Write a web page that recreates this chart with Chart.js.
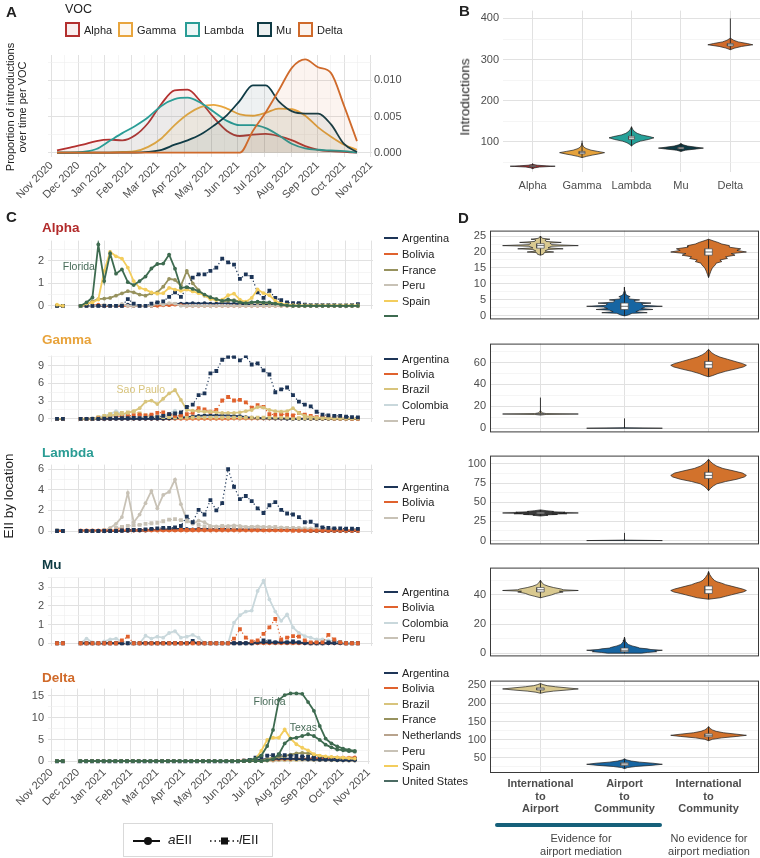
<!DOCTYPE html>
<html>
<head>
<meta charset="utf-8">
<script src="https://cdn.jsdelivr.net/npm/chart.js@4.4.1/dist/chart.umd.min.js"></script>
<style>
  body { margin: 0; background: #fff; font-family: "Liberation Sans", Arial, sans-serif; color: #222; }
  #fig { position: relative; width: 760px; height: 858px; overflow: hidden; }
  canvas { position: absolute; }
  .t { position: absolute; white-space: nowrap; line-height: 1; transform: translateY(-50%); }
</style>
</head>
<body>
<div id="fig"></div>
<script>
const N = null;

// ---------- shared time axis (x = weekly sample index) ----------
const monthLabels = ['Nov 2020','Dec 2020','Jan 2021','Feb 2021','Mar 2021','Apr 2021','May 2021',
                     'Jun 2021','Jul 2021','Aug 2021','Sep 2021','Oct 2021','Nov 2021'];
const monthPos = [-0.93, 3.6, 8.12, 12.65, 17.17, 21.7, 26.22, 30.75, 35.27, 39.8, 44.32, 48.85, 53.37];

// ---------- Panel A: proportion of introductions over time ----------
const vocNames = ['Alpha','Gamma','Lambda','Mu','Delta'];
const vocColors = ['#b3302f','#e8a53d','#2a9d96','#0f3b45','#cf6a2b'];
const densX = [0,2.2,4.4,6.7,8.9,11.1,13.3,15.5,17.8,20,22.2,24.4,26.6,28.9,31.1,33.3,35.5,37.7,40,42.2,44.4,46.6,48.8,51];
const densAlpha  = [0.0003,0.0007,0.0011,0.0016,0.0018,0.0017,0.0024,0.0041,0.0068,0.0086,0.0087,0.0071,0.0049,0.0030,0.0023,0.0025,0.0026,0.0023,0.0017,0.0009,0.0004,0.0002,0.0001,0];
const densGamma  = [0,0,0,0,0,0.0001,0.0002,0.0008,0.0020,0.0038,0.0053,0.0063,0.0066,0.0061,0.0053,0.0051,0.0055,0.0061,0.0060,0.0051,0.0035,0.0022,0.0011,0.0004];
const densLambda = [0,0,0.0001,0.0005,0.0016,0.0027,0.0037,0.0049,0.0065,0.0074,0.0076,0.0069,0.0057,0.0044,0.0038,0.0038,0.0034,0.0024,0.0012,0.0006,0.0004,0.0003,0.0002,0];
const densMu     = [0,0,0,0,0,0,0,0.0001,0.0004,0.0011,0.0017,0.0025,0.0037,0.0052,0.0072,0.0093,0.0093,0.0071,0.0057,0.0054,0.0054,0.0039,0.0012,0.0001];
const densDelta  = [0,0,0,0,0,0,0,0,0,0,0,0,0,0,0,0.0030,0.0056,0.0086,0.0118,0.0129,0.0118,0.0110,0.0065,0.0016];

// ---------- Panel B: introductions per VOC (violin profiles: [value, relative width]) ----------
const bAlpha  = [[35,0],[37,0.08],[39,0.3],[40.5,0.8],[41,1.0],[42,0.6],[43.5,0.2],[45,0.05],[47,0]];
const bGamma  = [[62,0],[65,0.2],[68,0.45],[71,0.75],[74,1.0],[77,0.7],[80,0.4],[84,0.18],[88,0.07],[93,0.02],[97,0]];
const bLambda = [[90,0],[94,0.08],[98,0.2],[102,0.4],[106,0.75],[110,1.0],[113,0.8],[117,0.45],[121,0.25],[126,0.12],[131,0.05],[137,0]];
const bMu     = [[77,0],[80,0.2],[83,0.7],[85,1.0],[87,0.7],[90,0.3],[93,0.1],[96,0]];
const bDelta  = [[324,0],[328,0.2],[332,0.5],[336,1.0],[339,0.75],[343,0.35],[347,0.15],[352,0]];
const bWhisk  = [[35,47],[62,103],[90,137],[77,96],[324,400]];
const bBox    = [[40,41,42],[71,74,77],[106,110,114],[83,85,87],[333,336,339]];

// ---------- Panel C: EII by location (a = aEII, L = lEII), weekly ----------
const alphaArgentinaA = [0,0,N,N,0,0,0,0,0,0, 0,0,0.05,0,0,0,0,0.02,0.05,0.05, 0.08,0.1,0.1,0.12,0.1,0.12,0.1,0.1,0.12,0.1, 0.1,0.08,0.08,0.05,0.05,0.05,0.05,0.03,0.02,0.02, 0.02,0,0,0,0,0,0,0,0,0, 0,0];
const alphaArgentinaL = [0,0,N,N,0,0,0,0,0,0, 0,0,0.3,0.1,0,0,0.1,0.15,0.2,0.4, 0.6,0.4,0.8,1.25,1.4,1.4,1.55,1.7,2.1,1.93, 1.83,1.2,1.4,1.28,0.6,0.35,0.67,0.35,0.25,0.15, 0.12,0.12,0.05,0.03,0.03,0.03,0.03,0.03,0.02,0.02, 0.03,0.07];
const alphaBoliviaA   = [0,0,N,N,0,0,0,0.05,0,0, 0,0,0,0,0,0,0,0,0.02,0.03, 0.05,0.03,0,0,0,0,0,0,0,0, 0,0,0,0,0,0,0,0,0,0, 0,0,0,0,0,0,0,0,0,0, 0,0];
const alphaFranceA    = [0,0,N,N,0,0.05,0.2,0.3,0.32,0.35, 0.45,0.55,0.65,0.6,0.5,0.45,0.55,0.6,0.85,1.2, 1.15,0.9,1.55,1.0,0.7,0.45,0.35,0.3,0.2,0.22, 0.25,0.2,0.15,0.15,0.15,0.12,0.12,0.1,0.05,0.02, 0,0,0,0,0,0,0,0,0,0, 0,0];
const alphaPeruA      = [0,0,N,N,0,0,0,0,0.05,0, 0,0.08,0,0,0,0,0,0.1,0.05,0.12, 0.1,0,0,0,0,0,0,0,0,0, 0,0,0,0,0,0,0,0,0,0, 0,0,0,0,0,0,0,0,0,0, 0,0];
const alphaSpainA     = [0.05,0,N,N,0,0.1,0.15,0.28,1.55,2.4, 2.2,2.1,1.7,1.1,0.8,0.72,0.6,0.54,0.56,0.8, 0.72,0.67,0.72,0.64,0.56,0.47,0.3,0.25,0.27,0.47, 0.54,0.27,0.18,0.35,0.73,0.56,0.47,0.22,0.1,0.05, 0.03,0.02,0.02,0.02,0.02,0.02,0.02,0.02,0.02,0.02, 0.02,0.02];
const alphaFloridaA   = [N,N,N,N,0,0.15,0.37,2.73,1.1,2.33, 1.43,1.62,1.05,0.92,1.1,1.3,1.66,1.86,1.88,2.28, 1.65,0.8,0.83,0.75,0.65,0.5,0.38,0.3,0.22,0.28, 0.22,0.15,0.12,0.15,0.18,0.15,0.15,0.1,0.05,0.02, 0,0,0,0,0,0,0,0,0,0, 0,0];

const gammaArgentinaA = [0,0,N,N,0,0,0,0,0,0, 0,0,0,0,0,0,0,0,0,0.05, 0.1,0.2,0.3,0.4,0.5,0.6,0.6,0.6,0.6,0.55, 0.5,0.45,0.3,0.2,0.15,0.1,0.1,0.05,0.05,0, 0,0,0,0,0,0,0,0,0,0, 0,0];
const gammaArgentinaL = [0,0,N,N,0,0,0,0,0.05,0.05, 0.1,0.1,0.1,0.15,0.1,0.15,0.2,0.3,0.5,0.8, 0.9,1.1,2.0,2.4,4.0,4.3,7.7,8.1,10.0,10.5, 10.5,9.9,10.6,9.2,9.4,8.2,7.5,4.5,5.0,5.3, 4.0,2.9,2.4,2.1,1.2,0.7,0.6,0.5,0.5,0.35, 0.3,0.25];
const gammaBoliviaA   = [0,0,N,N,0,0,0,0,0,0, 0,0,0,0,0,0,0,0,0,0, 0,0,0,0,0,0,0,0,0,0, 0.05,0.05,0.05,0.05,0.05,0.05,0.05,0.05,0.05,0.05, 0.05,0.05,0.05,0,0,0,0,0,0,0, 0,0];
const gammaBoliviaL   = [0,0,N,N,0,0,0,0.1,0.1,0.1, 0.3,0.5,0.5,0.6,0.7,0.6,0.7,1.0,1.1,0.8, 0.5,0.6,0.8,1.0,1.8,1.6,1.2,1.5,3.1,3.7, 3.1,3.2,2.8,1.9,2.3,2.0,0.8,0.7,0.8,0.7, 0.6,1.0,0.7,0.5,0.3,0.3,0.2,0.1,0.1,0.1, 0.05,0.05];
const gammaBrazilA    = [0,0,N,N,0,0,0,0.1,0.3,0.6, 0.7,0.8,1.0,1.3,1.8,2.9,3.1,2.5,3.4,4.3, 4.9,3.2,1.5,1.4,1.3,1.2,1.2,1.1,1.0,1.0, 1.0,1.1,1.3,1.5,2.0,1.9,1.5,1.3,1.2,1.3, 1.8,1.0,0.5,0.3,0.2,0.15,0.1,0.05,0.05,0.05, 0.05,0.05];
const gammaBrazilL    = [0,0,N,N,0,0,0,0.3,0.5,0.8, 0.9,1.0,1.1,1.2,0.9,0.6,0.4,0.3,0.3,0.3, 0.2,0.2,0.2,0.2,0.2,0.2,0.2,0.2,0.2,0.2, 0.2,0.2,0.2,0.2,0.2,0.2,0.2,0.2,0.2,0.2, 0.1,0.1,0.1,0.1,0.1,0.1,0.1,0.1,0.1,0.1, 0.1,0.1];
const gammaColombiaA  = [0,0,N,N,0,0,0.1,0.3,0.5,0.8, 1.3,0.8,0.5,0.3,0.2,0.2,0.3,0.4,0.6,0.9, 1.4,0.5,0.3,0.2,0.2,0.2,0.1,0.1,0.1,0.1, 0.1,0.1,0.1,0.1,0.1,0.1,0.1,0.1,0.1,0.1, 0.05,0.05,0.05,0.05,0.05,0.05,0.05,0.05,0.05,0.05, 0.05,0.05];
const gammaPeruA      = [0,0,N,N,0,0.05,0.1,0.2,0.3,0.3, 0.5,0.4,0.3,0.3,0.2,0.2,0.2,0.3,0.4,0.5, 0.6,0.3,0.2,0.2,0.1,0.1,0.1,0.1,0.1,0.1, 0.1,0.1,0.1,0.1,0.1,0.1,0.1,0.1,0.1,0.1, 0.05,0.05,0.05,0.05,0.05,0.05,0.05,0.05,0.05,0.05, 0.05,0.05];

const lambdaArgentinaA = [0.1,0,N,N,0,0,0,0,0,0, 0,0,0,0.05,0.05,0.05,0.1,0.1,0.15,0.15, 0.2,0.2,0.2,0.15,0.2,0.2,0.2,0.2,0.2,0.2, 0.2,0.15,0.15,0.15,0.15,0.1,0.1,0.1,0.1,0.1, 0.1,0.05,0.05,0,0,0,0,0,0,0, 0,0];
const lambdaArgentinaL = [0,0,N,N,0,0,0,0,0,0, 0,0.05,0.1,0.1,0.1,0.15,0.2,0.25,0.3,0.3, 0.35,0.5,1.4,0.85,2.05,1.6,3.0,2.0,2.7,6.0, 4.3,3.1,3.4,2.9,2.2,1.75,2.5,2.8,2.05,1.7, 1.6,1.35,0.85,0.9,0.55,0.35,0.3,0.25,0.25,0.22, 0.22,0.2];
const lambdaBoliviaA   = [0,0,N,N,0.05,0.05,0.05,0.05,0.05,0.05, 0.05,0.05,0.05,0.05,0.05,0.05,0.05,0.05,0.05,0.05, 0.05,0.05,0.05,0.05,0.05,0.05,0.05,0.05,0.05,0.05, 0.05,0.05,0.05,0.05,0.05,0.05,0.05,0.05,0.05,0.05, 0.05,0.05,0.05,0.05,0.05,0.05,0.05,0.05,0.05,0.05, 0.05,0.05];
const lambdaBoliviaL   = [0,0,N,N,0,0,0,0,0,0.1, 0.15,0.35,0.1,0.1,0.1,0.1,0.1,0.15,0.1,0.1, 0.1,0.1,0.1,0.1,0.15,0.15,0.2,0.2,0.3,0.25, 0.2,0.2,0.2,0.15,0.15,0.1,0.1,0.1,0.1,0.1, 0.05,0.05,0.05,0.05,0.05,0.05,0.05,0.05,0.05,0.05, 0.05,0.05];
const lambdaPeruA      = [0.1,0,N,N,0,0.05,0.05,0,0,0.3, 0.7,1.35,3.7,0.85,1.6,2.7,3.9,2.2,3.5,3.8, 5.0,2.6,1.06,0.7,1.0,0.85,0.5,0.45,0.45,0.5, 0.55,0.5,0.4,0.4,0.45,0.4,0.4,0.3,0.35,0.3, 0.3,0.3,0.2,0.25,0.2,0.2,0.2,0.1,0.1,0.1, 0.1,0.1];
const lambdaPeruL      = [0,0,N,N,0,0,0,0,0.1,0.2, 0.3,0.4,0.5,0.55,0.6,0.7,0.75,0.8,0.95,1.1, 1.15,1.05,0.95,0.85,0.6,0.45,0.4,0.35,0.5,0.4, 0.4,0.4,0.35,0.4,0.4,0.35,0.35,0.4,0.3,0.3, 0.3,0.25,0.25,0.2,0.2,0.15,0.15,0.1,0.1,0.1, 0.1,0.1];

const muArgentinaA = [0,0,N,N,0,0,0,0,0,0, 0,0,0,0,0,0,0,0,0,0, 0,0,0,0.05,0,0,0,0,0,0, 0,0,0,0,0.05,0.05,0.05,0.05,0.05,0.05, 0.05,0.05,0,0,0,0,0,0,0,0, 0,0];
const muArgentinaL = [0,0,N,N,0,0,0,0,0,0, 0,0,0,0,0,0,0,0,0,0, 0,0,0,0.12,0,0,0,0,0,0, 0,0,0,0,0.05,0.15,0.1,0.05,0.1,0.05, 0.1,0.05,0.05,0,0,0,0.05,0.1,0.05,0, 0,0];
const muBoliviaA   = [0,0,N,N,0,0,0,0,0,0, 0,0,0,0,0,0,0,0,0,0, 0,0,0,0,0,0,0,0,0,0, 0,0,0,0,0,0,0,0,0,0, 0,0,0,0,0,0,0,0,0,0, 0,0];
const muBoliviaL   = [0,0,N,N,0,0,0,0,0,0, 0,0.15,0.35,0,0,0,0,0,0,0, 0,0,0,0,0,0,0,0,0,0, 0.25,0.75,0.3,0.1,0.15,0.5,0.85,1.3,0.2,0.3, 0.38,0.35,0.15,0.05,0.05,0.05,0.45,0.2,0.05,0, 0,0];
const muColombiaA  = [0,0,N,N,0,0.25,0.05,0,0.1,0.2, 0.25,0.1,0,0,0,0.4,0.25,0.35,0.3,0.55, 0.65,0.3,0.35,0.45,0.3,0,0,0,0,0, 1.1,1.5,1.7,1.75,2.8,3.35,2.35,1.7,1.2,1.55, 0.85,0.55,0.38,0.3,0.2,0.2,0.15,0.1,0.05,0.03, 0,0];
const muPeruA      = [0,0,N,N,0,0,0,0,0,0, 0,0,0,0,0,0,0,0,0,0, 0,0,0,0,0,0,0,0,0,0, 0,0,0,0,0,0,0,0,0,0, 0,0,0,0,0,0,0,0,0,0, 0,0];

const deltaArgentinaA   = [0,0,N,N,0,0,0,0,0,0, 0,0,0,0,0,0,0,0,0,0, 0,0,0,0,0,0,0,0,0,0, 0,0,0.1,0.2,0.3,0.4,0.5,0.5,0.6,0.6, 0.6,0.5,0.5,0.4,0.4,0.3,0.3,0.3,0.2,0.2, 0.2,0.2];
const deltaArgentinaL   = [0,0,N,N,0,0,0,0,0,0, 0,0,0,0,0,0,0,0,0,0, 0,0,0,0,0,0,0,0,0,0, 0,0,0.1,0.3,0.8,1.2,1.3,1.4,1.5,1.4, 1.3,1.2,1.1,1.0,0.9,0.8,0.7,0.6,0.6,0.5, 0.5,0.5];
const deltaBoliviaA     = [0,0,N,N,0,0,0,0,0,0, 0,0,0,0,0,0,0,0,0,0, 0,0,0,0,0,0,0,0,0,0, 0.1,0.1,0.2,0.2,0.3,0.3,0.4,0.4,0.5,0.5, 0.5,0.6,0.6,0.6,0.7,0.7,0.7,0.8,0.8,0.8, 0.8,0.9];
const deltaBrazilA      = [0,0,N,N,0,0,0,0,0,0, 0,0,0,0,0,0,0,0,0,0, 0,0,0,0,0,0,0,0,0,0, 0,0,0,0,0.1,0.1,0.2,0.2,0.3,0.3, 0.3,0.3,0.4,0.4,0.3,0.3,0.3,0.2,0.2,0.2, 0.2,0.2];
const deltaFranceA      = [0,0,N,N,0,0,0,0,0,0, 0,0,0,0,0,0,0,0,0,0, 0,0,0,0,0,0,0,0,0,0, 0,0,0,0,0,0,0.5,0.8,1.0,1.2, 1.5,1.8,1.9,1.8,1.5,1.2,1.0,0.9,0.8,0.7, 0.6,0.6];
const deltaNetherlandsA = [0,0,N,N,0,0,0,0,0,0, 0,0,0,0,0,0,0,0,0,0, 0,0,0,0,0,0,0,0,0,0, 0,0,0,0,0,0.1,0.2,0.3,0.4,0.5, 0.6,0.6,0.5,0.5,0.4,0.4,0.3,0.3,0.3,0.2, 0.2,0.2];
const deltaPeruA        = [0,0,N,N,0,0,0,0,0,0, 0,0,0,0,0,0,0,0,0,0, 0,0,0,0,0,0,0,0,0,0, 0,0,0,0,0,0,0.1,0.1,0.2,0.2, 0.2,0.3,0.3,0.3,0.3,0.2,0.2,0.2,0.2,0.2, 0.1,0.1];
const deltaSpainA       = [0,0,N,N,0,0,0,0,0,0, 0,0,0,0,0,0,0,0,0,0, 0,0,0,0,0,0,0,0,0,0, 0,0,0.05,0.1,0.5,2.4,4.9,5.4,5.4,7.3, 5.2,3.9,3.1,2.5,1.6,1.3,1.1,1.0,0.9,0.8, 0.7,0.6];
const deltaFloridaA     = [0,0,N,N,0,0,0,0,0,0, 0,0,0,0,0,0,0,0,0,0, 0,0,0,0,0,0,0,0,0,0, 0,0,0.1,0.3,0.6,1.3,3.5,7.2,14.1,15.2, 15.6,15.6,15.5,13.6,11.6,8.1,5.2,4.1,3.4,2.9, 2.6,2.4];
const deltaTexasA       = [0,0,N,N,0,0,0,0,0,0, 0,0,0,0,0,0,0,0,0,0, 0,0,0,0,0,0,0,0,0,0, 0,0,0,0,0,0,0.2,0.5,1.6,4.1, 5.2,5.4,5.8,6.2,5.8,4.9,3.8,3.2,2.7,2.5, 2.3,2.2];

// ---------- Panel D: EII by route (violin profiles: [value, relative width]) ----------
const routeLabels = [['International','to','Airport'], ['Airport','to','Community'], ['International','to','Community']];
const d1IntAir = [[19,0],[19.3,0.08],[19.8,0.1],[20,0.35],[20.3,0.12],[20.8,0.2],[21,0.6],[21.3,0.2],[21.8,0.3],[22,1.0],[22.3,0.3],[22.8,0.25],[23,0.55],[23.3,0.15],[23.8,0.12],[24,0.25],[24.3,0.05],[25,0]];
const d1AirCom = [[0,0],[0.3,0.1],[0.8,0.2],[1,0.6],[1.3,0.3],[1.8,0.4],[2,0.75],[2.3,0.45],[2.8,0.55],[3,1.0],[3.3,0.5],[3.8,0.45],[4,0.7],[4.3,0.3],[4.8,0.25],[5,0.4],[5.3,0.12],[5.8,0.1],[6,0.15],[6.5,0.05],[7,0.03],[8,0.01],[9,0]];
const d1IntCom = [[12,0],[13,0.03],[14,0.06],[15,0.1],[16,0.18],[16.5,0.2],[17,0.35],[17.5,0.3],[18,0.5],[18.5,0.45],[19,0.7],[19.5,0.6],[20,1.0],[20.5,0.75],[21,0.85],[21.5,0.55],[22,0.55],[22.5,0.35],[23,0.25],[23.5,0.12],[24,0]];
const d2IntAir = [[12,0],[12.6,0.15],[13,1.0],[13.4,0.15],[14,0.05],[16,0]];
const d2AirCom = [[0,1.0],[0.4,0.03],[1,0]];
const d2IntCom = [[47,0],[48,0.1],[50,0.25],[52,0.45],[54,0.7],[56,0.92],[57.5,1.0],[59,0.9],[61,0.7],[63,0.5],[65,0.3],[67,0.17],[69,0.08],[71,0.03],[72,0]];
const d3IntAir = [[32,0],[33,0.2],[33.5,0.15],[34,0.45],[34.5,0.3],[35,0.7],[35.5,0.5],[36,1.0],[36.5,0.6],[37,0.65],[37.5,0.3],[38,0.35],[39,0.15],[40,0]];
const d3AirCom = [[0,1.0],[0.6,0.03],[1.5,0]];
const d3IntCom = [[65,0],[68,0.05],[71,0.12],[74,0.22],[77,0.45],[80,0.75],[83,0.95],[85,1.0],[88,0.9],[91,0.65],[94,0.38],[97,0.22],[100,0.12],[103,0.05],[106,0]];
const d4IntAir = [[38,0],[39,0.15],[40,0.3],[41,0.4],[42,0.6],[42.5,0.5],[43,1.0],[43.5,0.6],[44,0.55],[45,0.35],[46,0.2],[47,0.1],[48,0.05],[50,0]];
const d4AirCom = [[0,0.45],[0.5,0.6],[1,0.85],[1.5,0.8],[2,1.0],[2.5,0.7],[3,0.6],[3.5,0.4],[4,0.35],[5,0.2],[6,0.1],[7,0.06],[8,0.03],[9,0.02],[11,0]];
const d4IntCom = [[37,0],[38,0.3],[39,0.45],[40,0.6],[41,0.75],[42,0.92],[43,1.0],[44,0.9],[45,0.75],[46,0.6],[47,0.45],[48,0.35],[49,0.22],[50,0.15],[52,0.08],[54,0.03],[56,0]];
const d5IntAir = [[228,0],[231,0.12],[234,0.35],[237,0.7],[240,1.0],[243,0.7],[246,0.4],[249,0.18],[252,0.07],[255,0]];
const d5AirCom = [[20,0],[23,0.08],[26,0.3],[29,0.7],[32,1.0],[35,0.75],[38,0.4],[41,0.18],[44,0.06],[47,0]];
const d5IntCom = [[97,0],[101,0.1],[105,0.35],[109,0.75],[112,1.0],[115,0.75],[119,0.4],[123,0.2],[127,0.1],[131,0.04],[136,0]];
const dWhisk = [[[19,25],[0,9],[12,24]], [[12,28],[0,9],[47,72]], [[32,40],[0,10],[65,106]], [[38,50],[0,11],[37,56]], [[228,255],[20,47],[97,136]]];
const dBox = [[[21.2,22,22.6],[2,3,4],[19,20,21]], [[12.8,13,13.5],null,[55,58,61]], [[35,36,37],null,[81,85,89]], [[42,43.5,45],[1,2,3.5],[41,43.5,46]], [[237,240,243],[29,33,36],[108,112,116]]];

// ---------- colours ----------
const COL = { Argentina:'#1d3557', Bolivia:'#e0622e', Brazil:'#d8c47c', Colombia:'#c9d8dc', France:'#97925e',
              Netherlands:'#b8a38d', Peru:'#c8c2b6', Spain:'#f3cd5d', US:'#3e6b50' };
const routeColors = ['#d9c990', '#1665a2', '#d2722c'];
const MAJ = '#e1e1e1', MIN = '#eeeeee';
const X_MIN = -1.53, X_MAX = 53.56;

Chart.defaults.font.family = '"Liberation Sans", Arial, sans-serif';
Chart.defaults.color = '#4d4d4d';
Chart.defaults.animation = false;

// text labels and frames drawn on top of the datasets
Chart.register({
  id: 'notes',
  afterDatasetsDraw(chart, args, o) {
    const ctx = chart.ctx, x = chart.scales.x, y = chart.scales.y;
    (o.items || []).forEach(it => {
      ctx.save();
      ctx.font = '10.5px "Liberation Sans", Arial, sans-serif';
      ctx.fillStyle = it.color;
      ctx.textAlign = 'center';
      ctx.textBaseline = 'middle';
      ctx.fillText(it.text, x.getPixelForValue(it.x), y.getPixelForValue(it.y));
      ctx.restore();
    });
    if (o.frame) {
      const a = chart.chartArea;
      ctx.save();
      ctx.strokeStyle = '#3a3a3a';
      ctx.lineWidth = 1;
      ctx.strokeRect(a.left + 0.5, a.top + 0.5, a.right - a.left - 1, a.bottom - a.top - 1);
      ctx.restore();
    }
  }
});

const fig = document.getElementById('fig');

function mk(left, top, w, h) {
  const c = document.createElement('canvas');
  c.width = w; c.height = h;
  c.style.left = left + 'px'; c.style.top = top + 'px';
  c.style.width = w + 'px'; c.style.height = h + 'px';
  fig.appendChild(c);
  return c;
}

function tx(html, x, y, css) {
  const d = document.createElement('div');
  d.className = 't';
  d.innerHTML = html;
  d.style.left = x + 'px';
  d.style.top = y + 'px';
  if (css) d.style.cssText += css;
  fig.appendChild(d);
  return d;
}

function fade(hex, a) {
  const n = parseInt(hex.slice(1), 16);
  return 'rgba(' + (n >> 16) + ',' + ((n >> 8) & 255) + ',' + (n & 255) + ',' + a + ')';
}

function gridCfg() {
  return {
    drawTicks: false,
    color: c => (c.tick && c.tick.major) ? MAJ : MIN,
    lineWidth: c => (c.tick && c.tick.major) ? 1 : 0.6
  };
}

function tickList(majors, min, max) {
  const step = majors[1] - majors[0], h = step / 2;
  let v = majors[0];
  while (v - h >= min - 1e-9) v -= h;
  const out = [];
  for (; v <= max + 1e-9; v += h) {
    const k = (v - majors[0]) / step;
    out.push({ value: +v.toFixed(6), major: Math.abs(k - Math.round(k)) < 1e-6 });
  }
  return out;
}

function monthTicks() {
  const out = [];
  monthPos.forEach((p, i) => {
    out.push({ value: p, major: true, label: monthLabels[i] });
    if (i < monthPos.length - 1) out.push({ value: (p + monthPos[i + 1]) / 2, major: false, label: '' });
  });
  return out.filter(t => t.value >= X_MIN && t.value <= X_MAX);
}

function monthAxis(show, height) {
  return {
    type: 'linear', min: X_MIN, max: X_MAX,
    afterBuildTicks: s => { s.ticks = monthTicks(); },
    ticks: { display: show, autoSkip: false, minRotation: 45, maxRotation: 45, padding: 2,
             font: { size: 11 }, callback: (v, i, t) => (t[i] && t[i].major) ? t[i].label : '' },
    grid: gridCfg(),
    border: { display: false },
    afterFit: s => { s.height = height; }
  };
}

function valAxis(majors, min, max, width, fmt, pos) {
  return {
    type: 'linear', position: pos || 'left', min: min, max: max,
    afterBuildTicks: s => { s.ticks = tickList(majors, min, max); },
    ticks: { autoSkip: false, padding: pos === 'right' ? 2 : 4, font: { size: 11 },
             callback: (v, i, t) => (t[i] && t[i].major) ? fmt(v) : '' },
    grid: gridCfg(),
    border: { display: false },
    afterFit: s => { s.width = width; }
  };
}

function catAxis(labels, show, height, font, pad) {
  return {
    type: 'linear', min: 0.4, max: labels.length + 0.6,
    afterBuildTicks: s => { s.ticks = labels.map((l, i) => ({ value: i + 1, major: true })); },
    ticks: { display: show, autoSkip: false, minRotation: 0, maxRotation: 0, padding: pad,
             font: font, callback: (v, i) => labels[i] },
    grid: gridCfg(),
    border: { display: false },
    afterFit: s => { s.height = height; }
  };
}

function opts(pad, scales, plug) {
  return {
    responsive: false, animation: false, events: [],
    layout: { padding: pad, autoPadding: false },
    plugins: Object.assign({ legend: { display: false }, tooltip: { enabled: false } }, plug || {}),
    scales: scales
  };
}

// later datasets are drawn on top, like ggplot layers
function layered(sets) {
  sets.forEach((d, k) => { d.order = -k; });
  return sets;
}

// violin = closed outline around the centre, filled as a shape
function violinSets(c, prof, color, hw, whisk, box, bhw) {
  const right = prof.map(p => ({ x: c + p[1] * hw, y: p[0] }));
  const left = prof.slice().reverse().map(p => ({ x: c - p[1] * hw, y: p[0] }));
  const pts = right.concat(left);
  pts.push(right[0]);
  const sets = [{ data: pts, fill: 'shape', backgroundColor: color, borderColor: '#1e1e1e',
                  borderWidth: 0.7, pointRadius: 0, tension: 0 }];
  sets.push({ data: [{ x: c, y: whisk[0] }, { x: c, y: whisk[1] }], borderColor: '#1e1e1e',
              borderWidth: 0.9, pointRadius: 0, fill: false });
  if (box) {
    sets.push({ data: [{ x: c - bhw, y: box[0] }, { x: c + bhw, y: box[0] }, { x: c + bhw, y: box[2] },
                       { x: c - bhw, y: box[2] }, { x: c - bhw, y: box[0] }],
                fill: 'shape', backgroundColor: '#ffffff', borderColor: '#4a4a4a', borderWidth: 0.7,
                pointRadius: 0, tension: 0 });
    sets.push({ data: [{ x: c - bhw, y: box[1] }, { x: c + bhw, y: box[1] }], borderColor: '#4a4a4a',
                borderWidth: 0.8, pointRadius: 0, fill: false });
  }
  return sets;
}

// ================= Panel A =================
const densSeries = [densAlpha, densGamma, densLambda, densMu, densDelta];
new Chart(mk(0, 0, 430, 215), {
  type: 'line',
  data: { datasets: layered(vocNames.map((n, i) => ({
    data: densX.map((x, j) => ({ x: x, y: densSeries[i][j] })),
    borderColor: vocColors[i], backgroundColor: fade(vocColors[i], 0.07), fill: 'origin',
    borderWidth: 1.8, pointRadius: 0, cubicInterpolationMode: 'monotone'
  }))) },
  options: opts({ left: 48, top: 55, right: 0, bottom: 0 }, {
    x: monthAxis(true, 58),
    y: valAxis([0, 0.005, 0.01], -0.0006, 0.0135, 58, v => v.toFixed(3), 'right')
  })
});

// ================= Panel B =================
const bProfiles = [bAlpha, bGamma, bLambda, bMu, bDelta];
const bColors = ['#a02f30', '#e5a23c', '#26a098', '#0d3a44', '#d06a2b'];
let bSets = [];
bProfiles.forEach((p, i) => { bSets = bSets.concat(violinSets(i + 1, p, bColors[i], 0.455, bWhisk[i], bBox[i], 0.06)); });
new Chart(mk(400, 0, 360, 200), {
  type: 'line',
  data: { datasets: layered(bSets) },
  options: opts({ left: 0, top: 3, right: 0, bottom: 0 }, {
    x: catAxis(vocNames, true, 28, { size: 11 }, 7),
    y: valAxis([100, 200, 300, 400], 27, 419, 103, v => String(v))
  })
});

// ================= Panel C =================
function ser(arr, color, local) {
  return {
    data: arr.map((v, i) => ({ x: i, y: v })),
    borderColor: color, backgroundColor: color,
    borderWidth: local ? 1.2 : 1.8,
    borderDash: local ? [1.2, 2.6] : [],
    pointStyle: local ? 'rect' : 'circle',
    pointRadius: local ? 2.7 : 1.9,
    pointBorderWidth: 0, tension: 0, fill: false
  };
}

function cChart(top, bottom, ymin, ymax, majors, series, notes, showX) {
  const xh = showX ? 60 : 0;
  const c = mk(0, top - 5, 380, bottom - top + 5 + (showX ? xh : 5));
  new Chart(c, {
    type: 'line',
    data: { datasets: layered(series) },
    options: opts({ left: 0, top: 5, right: 7, bottom: showX ? 0 : 5 }, {
      x: monthAxis(showX, xh),
      y: valAxis(majors, ymin, ymax, 48, v => String(v))
    }, { notes: { items: notes } })
  });
}

cChart(235, 315, -0.16, 2.9, [0, 1, 2], [
  ser(alphaArgentinaA, COL.Argentina, false), ser(alphaBoliviaA, COL.Bolivia, false),
  ser(alphaPeruA, COL.Peru, false), ser(alphaFranceA, COL.France, false),
  ser(alphaArgentinaL, COL.Argentina, true),
  ser(alphaSpainA, COL.Spain, false), ser(alphaFloridaA, COL.US, false)
], [{ x: 3.7, y: 1.74, text: 'Florida', color: '#4a6d5a' }], false);

cChart(350, 428, -0.6, 10.7, [0, 3, 6, 9], [
  ser(gammaPeruA, COL.Peru, false), ser(gammaColombiaA, COL.Colombia, false),
  ser(gammaBoliviaA, COL.Bolivia, false), ser(gammaArgentinaA, COL.Argentina, false),
  ser(gammaBrazilL, COL.Brazil, true), ser(gammaBoliviaL, COL.Bolivia, true),
  ser(gammaBrazilA, COL.Brazil, false), ser(gammaArgentinaL, COL.Argentina, true)
], [{ x: 14.2, y: 4.8, text: 'Sao Paulo', color: '#d8c47c' }], false);

cChart(459, 540, -0.33, 6.45, [0, 2, 4, 6], [
  ser(lambdaArgentinaA, COL.Argentina, false), ser(lambdaBoliviaL, COL.Bolivia, true),
  ser(lambdaPeruL, COL.Peru, true), ser(lambdaPeruA, COL.Peru, false),
  ser(lambdaBoliviaA, COL.Bolivia, false), ser(lambdaArgentinaL, COL.Argentina, true)
], [], false);

cChart(572, 652, -0.17, 3.52, [0, 1, 2, 3], [
  ser(muPeruA, COL.Peru, false), ser(muBoliviaA, COL.Bolivia, false),
  ser(muArgentinaA, COL.Argentina, false), ser(muColombiaA, COL.Colombia, false),
  ser(muArgentinaL, COL.Argentina, true), ser(muBoliviaL, COL.Bolivia, true)
], [], false);

cChart(683, 764, -0.64, 16.7, [0, 5, 10, 15], [
  ser(deltaPeruA, COL.Peru, false), ser(deltaBrazilA, COL.Brazil, false),
  ser(deltaNetherlandsA, COL.Netherlands, false), ser(deltaBoliviaA, COL.Bolivia, false),
  ser(deltaArgentinaA, COL.Argentina, false), ser(deltaFranceA, COL.France, false),
  ser(deltaArgentinaL, COL.Argentina, true), ser(deltaSpainA, COL.Spain, false),
  ser(deltaTexasA, COL.US, false), ser(deltaFloridaA, COL.US, false)
], [{ x: 36.4, y: 13.5, text: 'Florida', color: '#4a6d5a' }, { x: 42.2, y: 7.6, text: 'Texas', color: '#4a6d5a' }], true);

// ================= Panel D =================
const dProfiles = [[d1IntAir, d1AirCom, d1IntCom], [d2IntAir, d2AirCom, d2IntCom], [d3IntAir, d3AirCom, d3IntCom],
                   [d4IntAir, d4AirCom, d4IntCom], [d5IntAir, d5AirCom, d5IntCom]];
const dLayout = [
  { top: 225, bottom: 325, min: -1.1, max: 26.7, majors: [0, 5, 10, 15, 20, 25] },
  { top: 338, bottom: 438, min: -3.8, max: 77.3, majors: [0, 20, 40, 60] },
  { top: 450, bottom: 550, min: -5, max: 110.8, majors: [0, 25, 50, 75, 100] },
  { top: 562, bottom: 662, min: -2.2, max: 58.7, majors: [0, 20, 40] },
  { top: 675, bottom: 773, min: 8, max: 263, majors: [50, 100, 150, 200, 250] }
];
dLayout.forEach((L, k) => {
  const showX = k === dLayout.length - 1;
  let sets = [];
  dProfiles[k].forEach((p, j) => {
    let color = routeColors[j];
    if (k === 2 && j === 0) color = '#3a3a3a';
    sets = sets.concat(violinSets(j + 1, p, color, 0.45, dWhisk[k][j], dBox[k][j], 0.045));
  });
  const c = mk(400, L.top - 5, 360, L.bottom - L.top + 5 + (showX ? 47 : 5));
  new Chart(c, {
    type: 'line',
    data: { datasets: layered(sets) },
    options: opts({ left: 0, top: 5, right: 1, bottom: showX ? 0 : 5 }, {
      x: catAxis(routeLabels, showX, showX ? 47 : 0, { size: 11, weight: 'bold', lineHeight: 1.18 }, 4),
      y: valAxis(L.majors, L.min, L.max, 90, v => String(v))
    }, { notes: { frame: true } })
  });
});

// ================= text, legends, annotations =================
const BOLD = 'font-weight:bold;';
tx('A', 6, 11, BOLD + 'font-size:15px;');
tx('B', 459, 10, BOLD + 'font-size:15px;');
tx('C', 6, 216, BOLD + 'font-size:15px;');
tx('D', 458, 217, BOLD + 'font-size:15px;');

// panel A legend
tx('VOC', 65, 9, 'font-size:12.5px;');
const vocLegendX = [65, 118, 185, 257, 298];
vocNames.forEach((n, i) => {
  const b = document.createElement('div');
  b.style.cssText = 'position:absolute;top:22px;width:11px;height:11px;border:2px solid ' + vocColors[i] +
                    ';background:' + fade(vocColors[i], 0.08) + ';left:' + vocLegendX[i] + 'px;';
  fig.appendChild(b);
  tx(n, vocLegendX[i] + 19, 29.5, 'font-size:11px;');
});
tx('Proportion of introductions<br>over time per VOC', 17, 107,
   'font-size:11px;line-height:1.08;text-align:center;transform:translate(-50%,-50%) rotate(-90deg);');
tx('Introductions', 465, 97, 'font-size:13.5px;transform:translate(-50%,-50%) rotate(-90deg);');

// panel C titles
tx('Alpha', 42, 228, BOLD + 'font-size:13.5px;color:#b22b2b;');
tx('Gamma', 42, 340, BOLD + 'font-size:13.5px;color:#e8a33b;');
tx('Lambda', 42, 452.5, BOLD + 'font-size:13.5px;color:#2a9c94;');
tx('Mu', 42, 565, BOLD + 'font-size:13.5px;color:#0e3b43;');
tx('Delta', 42, 677.5, BOLD + 'font-size:13.5px;color:#d06a2a;');
tx('EII by location', 9, 496, 'font-size:13.5px;transform:translate(-50%,-50%) rotate(-90deg);');

// panel C location legends
const cLegends = [
  { ys: [238, 254, 270, 285, 301, 316], names: ['Argentina', 'Bolivia', 'France', 'Peru', 'Spain', ''],
    cols: [COL.Argentina, COL.Bolivia, COL.France, COL.Peru, COL.Spain, COL.US] },
  { ys: [359, 374, 389, 405, 421], names: ['Argentina', 'Bolivia', 'Brazil', 'Colombia', 'Peru'],
    cols: [COL.Argentina, COL.Bolivia, COL.Brazil, COL.Colombia, COL.Peru] },
  { ys: [487, 502, 518], names: ['Argentina', 'Bolivia', 'Peru'], cols: [COL.Argentina, COL.Bolivia, COL.Peru] },
  { ys: [592, 607, 623, 638], names: ['Argentina', 'Bolivia', 'Colombia', 'Peru'],
    cols: [COL.Argentina, COL.Bolivia, COL.Colombia, COL.Peru] },
  { ys: [673, 688, 704, 719, 735, 751, 766, 781],
    names: ['Argentina', 'Bolivia', 'Brazil', 'France', 'Netherlands', 'Peru', 'Spain', 'United States'],
    cols: [COL.Argentina, COL.Bolivia, COL.Brazil, COL.France, COL.Netherlands, COL.Peru, COL.Spain, '#4b6b63'] }
];
cLegends.forEach(L => {
  L.ys.forEach((y, i) => {
    const d = document.createElement('div');
    d.style.cssText = 'position:absolute;left:384px;width:14px;height:2px;top:' + (y - 1) + 'px;background:' + L.cols[i] + ';';
    fig.appendChild(d);
    if (L.names[i]) tx(L.names[i], 402, y, 'font-size:11px;');
  });
});

// aEII / lEII key
const key = document.createElement('div');
key.style.cssText = 'position:absolute;left:123px;top:823px;width:150px;height:34px;border:1px solid #d9d9d9;box-sizing:border-box;';
key.innerHTML = '<svg width="150" height="34" style="position:absolute;left:0;top:0">' +
  '<line x1="9" y1="17" x2="36" y2="17" stroke="#111" stroke-width="2"/>' +
  '<circle cx="24" cy="17" r="4" fill="#111"/>' +
  '<line x1="86" y1="17" x2="116" y2="17" stroke="#111" stroke-width="1.6" stroke-dasharray="1.5 3"/>' +
  '<rect x="97" y="13.5" width="7" height="7" fill="#111"/></svg>';
fig.appendChild(key);
tx('<i>a</i>EII', 168, 840, 'font-size:13.5px;');
tx('<i>l</i>EII', 239, 840, 'font-size:13.5px;');

// panel D footer
const bar = document.createElement('div');
bar.style.cssText = 'position:absolute;left:495px;top:823px;width:167px;height:4px;background:#16607a;border-radius:2px;';
fig.appendChild(bar);
const CENTER = 'font-size:11px;color:#444;text-align:center;transform:translate(-50%,-50%);';
tx('Evidence for', 581, 838, CENTER);
tx('airport mediation', 581, 851, CENTER);
tx('No evidence for', 709, 838, CENTER);
tx('airport mediation', 709, 851, CENTER);
</script>
</body>
</html>
